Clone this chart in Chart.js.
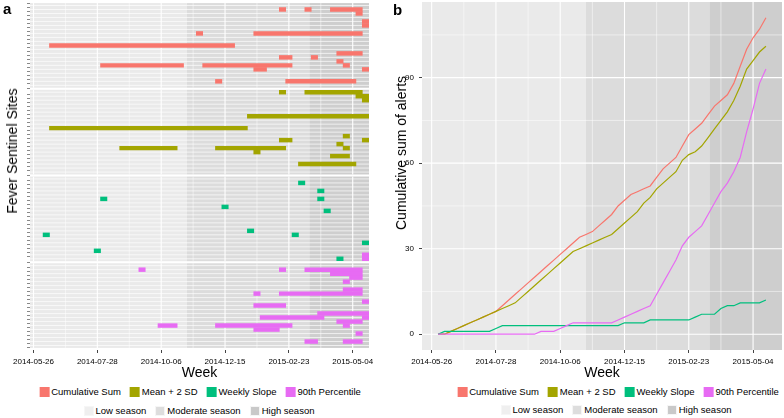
<!DOCTYPE html>
<html>
<head>
<meta charset="utf-8">
<script src="https://cdn.jsdelivr.net/npm/chart.js@4.4.1/dist/chart.umd.min.js"></script>
<style>
html,body{margin:0;padding:0;background:#fff;width:784px;height:418px;overflow:hidden;font-family:"Liberation Sans",Arial,sans-serif;}
.wrap{position:absolute;top:0;width:392px;height:386px;}
.panel{position:absolute;font-weight:bold;font-size:15px;color:#000;line-height:15px;}
.ytitle{position:absolute;font-size:14px;line-height:16px;color:#000;white-space:nowrap;transform:translate(-50%,-50%) rotate(-90deg);}
.legend{position:absolute;display:flex;align-items:center;font-size:9.5px;line-height:12px;color:#000;white-space:nowrap;transform:translateX(-50%);}
.item{display:flex;align-items:center;margin:0 4.5px;}
.key{width:10px;height:10px;margin-right:2px;box-sizing:border-box;}
</style>
</head>
<body>
<div class="wrap" style="left:0"><canvas id="cA" width="392" height="386"></canvas></div>
<div class="wrap" style="left:392px"><canvas id="cB" width="392" height="386"></canvas></div>
<div class="panel" style="left:3px;top:1px">a</div>
<div class="panel" style="left:393px;top:2px">b</div>
<div class="ytitle" style="left:12px;top:151px">Fever Sentinel Sites</div>
<div class="ytitle" style="left:401px;top:153px">Cumulative sum of alerts</div>
<div class="legend" id="legA1" style="left:200px;top:386px"></div>
<div class="legend" id="legA2" style="left:199px;top:405px"></div>
<div class="legend" id="legB1" style="left:618px;top:386px"></div>
<div class="legend" id="legB2" style="left:616px;top:404px"></div>
<script>
// ---------- data ----------
const seriesNames = ['Cumulative Sum', 'Mean + 2 SD', 'Weekly Slope', '90th Percentile'];
const seriesColors = ['#F8766D', '#A3A500', '#00BF7D', '#E76BF3'];

const seasonNames = ['Low season', 'Moderate season', 'High season'];
const seasonColors = ['#EAEAEA', '#DCDCDC', '#CECECE'];
const seasonKeyColors = ['#EFEFEF', '#DDDDDD', '#C9C9C9'];
const seasonBreaks = [24, 43.2]; // week where moderate, then high season begins

const tickWeeks = [0, 10, 20, 30, 40, 50];
const tickLabels = ['2014-05-26', '2014-07-28', '2014-10-06', '2014-12-15', '2015-02-23', '2015-05-04'];

// panel b: cumulative number of alerts per week
const weeks = [1,2,3,4,5,6,7,8,9,10,11,12,13,14,15,16,17,18,19,20,21,22,23,24,25,26,
               27,28,29,30,31,32,33,34,35,36,37,38,39,40,41,42,43,44,45,46,47,48,49,50,51,52];
const cumulativeSum = [0,0,1,2,3,4,5,6,7,8,10,12,14,16,18,20,22,24,26,28,30,32,34,35,36,38,
                       40,42,45,47,49,50,51,52,55,58,60,62,66,70,72,74,77,80,82,84,88,94,100,104,107,111];
const meanPlus2SD = [0,0,1,2,3,4,5,6,7,8,9,10,11,13,15,17,19,21,23,25,27,29,30,31,32,33,
                     34,35,37,39,41,43,46,48,51,53,55,57,61,63,64,66,69,72,75,78,82,87,93,96,99,101];
const weeklySlope = [0,1,1,1,1,1,1,1,1,2,3,3,3,3,3,3,3,3,3,3,3,3,3,3,3,3,
                     3,3,3,4,4,4,4,5,5,5,5,5,5,5,6,7,7,7,9,10,10,11,11,11,11,12];
const percentile90 = [0,0,0,0,0,0,0,0,0,0,0,0,0,0,0,0,1,1,1,2,3,4,4,4,4,4,
                      4,4,5,6,7,8,9,10,14,18,22,26,31,34,36,38,42,46,50,53,57,62,71,79,88,93];
const yTicksB = [0, 30, 60, 90];

// panel a: alert runs per sentinel site  [panel, site row (0 = top), first week, last week]
const siteCount = 21;
const cusumAlerts = [[0,1,39,39],[0,1,43,43],[0,1,47,51],[0,2,51,51],[0,4,52,52],[0,5,52,52],[0,7,26,26],[0,7,35,51],
  [0,10,3,31],[0,12,48,51],[0,13,39,40],[0,13,44,44],[0,14,48,48],[0,15,11,23],[0,15,27,40],[0,15,49,49],
  [0,16,35,36],[0,16,52,52],[0,19,29,29],[0,19,40,50]];
const meanAlerts = [[1,0,39,39],[1,0,43,51],[1,1,51,52],[1,2,52,52],[1,6,34,52],[1,9,3,33],[1,11,49,49],[1,12,39,40],
  [1,12,52,52],[1,13,48,48],[1,14,14,22],[1,14,29,39],[1,14,49,49],[1,15,35,35],[1,16,47,49],[1,18,42,50]];
const slopeAlerts = [[2,1,42,42],[2,3,45,45],[2,5,11,11],[2,5,45,45],[2,7,30,30],[2,8,46,46],[2,13,34,34],[2,14,2,2],
  [2,14,41,41],[2,16,52,52],[2,18,10,10],[2,20,48,48]];
const pctAlerts = [[3,1,17,17],[3,1,39,39],[3,1,43,51],[3,2,47,51],[3,3,50,51],[3,4,49,49],[3,6,49,51],[3,7,35,35],
  [3,7,39,51],[3,9,52,52],[3,10,35,39],[3,12,45,52],[3,13,36,45],[3,13,52,52],[3,14,48,51],[3,15,20,22],[3,15,29,40],
  [3,15,49,49],[3,16,35,38],[3,17,51,51],[3,19,43,44],[3,19,49,51],[2,19,52,52],[2,20,52,52]];
const alertSets = [cusumAlerts, meanAlerts, slopeAlerts, pctAlerts];

// ---------- setup ----------
Chart.defaults.font.family = '"Liberation Sans", Arial, sans-serif';
Chart.defaults.color = '#111';

const facetSpan = siteCount + 0.2;     // rows + padding, in row units
const facetGap = 0.52;
const facetStep = facetSpan + facetGap;
const yMaxA = 4 * facetSpan + 3 * facetGap;

function tileData(list) {
  return list.map(([f, row, a, b]) => ({ x: [a - 0.5, b + 0.5], y: f * facetStep + 0.6 + row }));
}

function drawSeasons(ctx, xs, left, right, top, bottom) {
  const edges = [left, ...seasonBreaks.map(v => xs.getPixelForValue(v)), right];
  for (let s = 0; s < 3; s++) {
    ctx.fillStyle = seasonColors[s];
    ctx.fillRect(edges[s], top, edges[s + 1] - edges[s], bottom - top);
  }
}
function vGrid(ctx, xs, top, bottom) {
  ctx.strokeStyle = '#fff';
  for (let i = 0; i < tickWeeks.length; i++) {
    const xm = xs.getPixelForValue(tickWeeks[i]);
    ctx.lineWidth = 1.1;
    ctx.beginPath(); ctx.moveTo(xm, top); ctx.lineTo(xm, bottom); ctx.stroke();
    if (i < tickWeeks.length - 1) {
      const xn = xs.getPixelForValue((tickWeeks[i] + tickWeeks[i + 1]) / 2);
      ctx.lineWidth = 0.5;
      ctx.beginPath(); ctx.moveTo(xn, top); ctx.lineTo(xn, bottom); ctx.stroke();
    }
  }
}

const facetBg = {
  id: 'facetBg',
  beforeDraw(chart) {
    const { ctx, chartArea } = chart;
    const xs = chart.scales.x, ys = chart.scales.y;
    ctx.save();
    for (let f = 0; f < 4; f++) {
      const t = ys.getPixelForValue(f * facetStep);
      const b = ys.getPixelForValue(f * facetStep + facetSpan);
      drawSeasons(ctx, xs, chartArea.left, chartArea.right, t, b);
      ctx.strokeStyle = 'rgba(255,255,255,0.85)';
      ctx.lineWidth = 0.8;
      for (let r = 0; r < siteCount; r++) {
        const y = ys.getPixelForValue(f * facetStep + 0.6 + r);
        ctx.beginPath(); ctx.moveTo(chartArea.left, y); ctx.lineTo(chartArea.right, y); ctx.stroke();
      }
      vGrid(ctx, xs, t, b);
    }
    ctx.restore();
  }
};

const lineBg = {
  id: 'lineBg',
  beforeDraw(chart) {
    const { ctx, chartArea: ca } = chart;
    const xs = chart.scales.x, ys = chart.scales.y;
    ctx.save();
    drawSeasons(ctx, xs, ca.left, ca.right, ca.top, ca.bottom);
    vGrid(ctx, xs, ca.top, ca.bottom);
    ctx.strokeStyle = '#fff';
    for (let i = 0; i < yTicksB.length; i++) {
      const ym = ys.getPixelForValue(yTicksB[i]);
      ctx.lineWidth = 1.1;
      ctx.beginPath(); ctx.moveTo(ca.left, ym); ctx.lineTo(ca.right, ym); ctx.stroke();
      const yn = ys.getPixelForValue(yTicksB[i] + 15);
      ctx.lineWidth = 0.5;
      ctx.beginPath(); ctx.moveTo(ca.left, yn); ctx.lineTo(ca.right, yn); ctx.stroke();
    }
    ctx.restore();
  }
};

const xScaleCommon = (min, max) => ({
  type: 'linear', min, max,
  afterBuildTicks: s => { s.ticks = tickWeeks.map(v => ({ value: v })); },
  ticks: { callback: (v, i) => tickLabels[i], font: { size: 8 }, color: '#000', maxRotation: 0, autoSkip: false, padding: 4 },
  grid: { display: true, drawOnChartArea: false, drawTicks: true, tickLength: 3, tickColor: '#444', color: 'rgba(0,0,0,0)' },
  border: { display: false },
  title: { display: true, text: 'Week', font: { size: 14 }, color: '#000', padding: { top: 2, bottom: 4 } },
  afterFit: s => { s.height = 36; s.paddingLeft = 0; s.paddingRight = 0; }
});

// ---------- panel a ----------
new Chart(document.getElementById('cA'), {
  type: 'bar',
  data: {
    datasets: alertSets.map((set, k) => ({
      label: seriesNames[k],
      data: tileData(set),
      backgroundColor: seriesColors[k],
      borderWidth: 0,
      barThickness: 3.8,
      grouped: false
    }))
  },
  options: {
    indexAxis: 'y',
    responsive: false, animation: false, devicePixelRatio: 1,
    layout: { padding: { top: 1, right: 23, left: 0, bottom: 0 } },
    plugins: { legend: { display: false }, tooltip: { enabled: false } },
    scales: {
      x: xScaleCommon(-0.55, 52.55),
      y: {
        type: 'linear', reverse: true, min: 0, max: yMaxA,
        afterBuildTicks: s => {
          const t = [];
          for (let f = 0; f < 4; f++) for (let r = 0; r < siteCount; r++) t.push({ value: f * facetStep + 0.6 + r });
          s.ticks = t;
        },
        ticks: { callback: () => '', autoSkip: false, padding: 0 },
        grid: { display: true, drawOnChartArea: false, drawTicks: true, tickLength: 3, tickColor: '#888', color: 'rgba(0,0,0,0)' },
        border: { display: false },
        title: { display: false },
        afterFit: s => { s.width = 30; s.paddingTop = 0; s.paddingBottom = 0; }
      }
    }
  },
  plugins: [facetBg]
});

// ---------- panel b ----------
const lineSeries = [cumulativeSum, meanPlus2SD, weeklySlope, percentile90];
new Chart(document.getElementById('cB'), {
  type: 'line',
  data: {
    datasets: lineSeries.map((vals, k) => ({
      label: seriesNames[k],
      data: weeks.map((w, i) => ({ x: w, y: vals[i] })),
      borderColor: seriesColors[k],
      backgroundColor: seriesColors[k],
      borderWidth: 1.2,
      pointRadius: 0,
      tension: 0,
      fill: false,
      order: 3 - k
    }))
  },
  options: {
    responsive: false, animation: false, devicePixelRatio: 1,
    layout: { padding: { top: 2, right: 2, left: 0, bottom: 0 } },
    plugins: { legend: { display: false }, tooltip: { enabled: false } },
    scales: {
      x: xScaleCommon(-1.5, 54.5),
      y: {
        type: 'linear', min: -5.55, max: 116.55,
        afterBuildTicks: s => { s.ticks = yTicksB.map(v => ({ value: v })); },
        ticks: { font: { size: 8 }, color: '#000', padding: 5, autoSkip: false },
        grid: { display: true, drawOnChartArea: false, drawTicks: true, tickLength: 3, tickColor: '#444', color: 'rgba(0,0,0,0)' },
        border: { display: false },
        title: { display: false },
        afterFit: s => { s.width = 30; s.paddingTop = 0; s.paddingBottom = 0; }
      }
    }
  },
  plugins: [lineBg]
});

// ---------- legends (HTML text) ----------
function fillLegend(id, names, colors, border) {
  const el = document.getElementById(id);
  names.forEach((n, i) => {
    const it = document.createElement('div'); it.className = 'item';
    const k = document.createElement('div'); k.className = 'key'; k.style.background = colors[i];
    if (border) k.style.border = '1px solid #f6f6f6';
    const t = document.createElement('span'); t.textContent = n;
    it.appendChild(k); it.appendChild(t); el.appendChild(it);
  });
}
fillLegend('legA1', seriesNames, seriesColors, false);
fillLegend('legA2', seasonNames, seasonKeyColors, true);
fillLegend('legB1', seriesNames, seriesColors, false);
fillLegend('legB2', seasonNames, seasonKeyColors, true);
</script>
</body>
</html>
